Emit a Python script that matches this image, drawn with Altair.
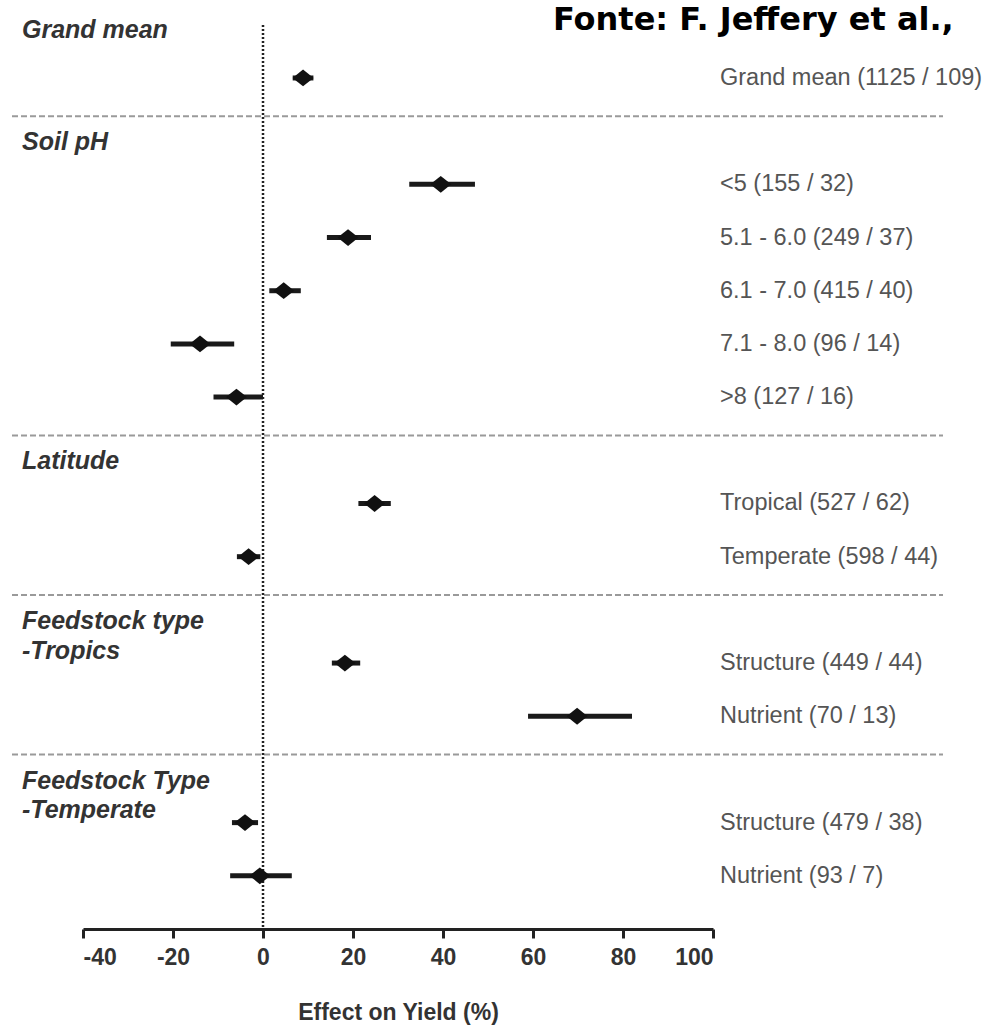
import altair as alt
import pandas as pd

# ---- data ----
heading_lines = [
    ["Grand mean"],
    ["Soil pH"],
    ["Latitude"],
    ["Feedstock type", "-Tropics"],
    ["Feedstock Type", "-Temperate"],
]
group_sizes = [1, 5, 2, 2, 2]
row_labels = [
    "Grand mean (1125 / 109)",
    "<5 (155 / 32)",
    "5.1 - 6.0 (249 / 37)",
    "6.1 - 7.0 (415 / 40)",
    "7.1 - 8.0 (96 / 14)",
    ">8 (127 / 16)",
    "Tropical (527 / 62)",
    "Temperate (598 / 44)",
    "Structure (449 / 44)",
    "Nutrient (70 / 13)",
    "Structure (479 / 38)",
    "Nutrient (93 / 7)",
]
effect = [8.9, 39.5, 18.9, 4.6, -14.0, -5.9, 24.8, -3.2, 18.2, 69.8, -4.0, -0.7]
ci_low = [6.6, 32.5, 14.2, 1.4, -20.5, -11.0, 21.2, -5.8, 15.3, 58.9, -6.9, -7.3]
ci_high = [11.2, 47.1, 24.0, 8.4, -6.4, 0.0, 28.4, -0.6, 21.6, 82.0, -1.1, 6.4]
x_ticks = [-40, -20, 0, 20, 40, 60, 80, 100]
x_title = "Effect on Yield (%)"
source_text = "Fonte: F. Jeffery et al.,"

# ---- build row layout (row index per item, group spacing) ----
rows_p, head_rows, sep_rows = [], [], []
p = 0
for gi, (lines, n) in enumerate(zip(heading_lines, group_sizes)):
    if gi > 0:
        p += 1
    first = p
    off = -0.9 if gi == 0 else -0.79
    for li, line in enumerate(lines):
        head_rows.append({"p": first + off + li * 0.56, "text": line})
    for _ in range(n):
        rows_p.append(p)
        p += 1
    if gi < len(group_sizes) - 1:
        sep_rows.append({"p": p - 1 + 0.72})

df = pd.DataFrame({"p": rows_p, "label": row_labels, "mean": effect,
                   "lo": ci_low, "hi": ci_high})
heads = pd.DataFrame(head_rows)
seps = pd.DataFrame(sep_rows)
zero_df = pd.DataFrame({"z": [0]})
src_df = pd.DataFrame({"t": [source_text]})

x_scale = alt.Scale(domain=[-40, 100], nice=False, zero=False)
y_scale = alt.Scale(domain=[-1.09, 16], reverse=True, nice=False, zero=False)
x_axis = alt.Axis(values=x_ticks, title=x_title, labelExpr="'' + datum.value")
Y = alt.Y("p:Q", scale=y_scale, axis=None)

bars = alt.Chart(df).mark_rule(strokeWidth=5, color="#1a1a1a").encode(
    x=alt.X("lo:Q", scale=x_scale, axis=x_axis),
    x2="hi:Q",
    y=Y,
)

diamond = "M-1,0L0,-0.8L1,0L0,0.8Z"
points = alt.Chart(df).mark_point(shape=diamond, size=440, filled=True,
                                  color="#111", opacity=1).encode(
    x=alt.X("mean:Q", scale=x_scale, axis=x_axis),
    y=Y,
)

labels = alt.Chart(df).mark_text(align="left", baseline="middle",
                                 font="Liberation Sans", fontSize=23.5,
                                 color="#555").encode(
    x=alt.value(637), y=Y, text="label:N")

headings = alt.Chart(heads).mark_text(align="left", baseline="middle",
                                      font="Liberation Sans", fontSize=25,
                                      fontWeight="bold", fontStyle="italic",
                                      color="#333").encode(
    x=alt.value(-61), y=Y, text="text:N")

separators = alt.Chart(seps).mark_rule(strokeDash=[6, 3], color="#9a9a9a",
                                       strokeWidth=2).encode(
    x=alt.value(-71), x2=alt.value(860), y=Y)

vline = alt.Chart(zero_df).mark_rule(strokeDash=[2, 2], strokeWidth=2.5,
                                     color="#222").encode(
    x=alt.X("z:Q", scale=x_scale, axis=x_axis),
    y=alt.value(5), y2=alt.value(909))

source = alt.Chart(src_df).mark_text(align="left", baseline="alphabetic",
                                     font="DejaVu Sans", fontSize=32,
                                     fontWeight="bold", color="#000").encode(
    x=alt.value(470), y=alt.value(10), text="t:N")

chart = alt.layer(separators, vline, bars, points, labels, headings, source).properties(
    width=630, height=909,
    autosize=alt.AutoSizeParams(type="none"),
    padding={"left": 83, "top": 20, "right": 277, "bottom": 104},
).configure_view(stroke=None).configure_axis(
    grid=False,
    domainColor="#222", domainWidth=3,
    tickColor="#222", tickWidth=3, tickSize=9,
    labelFont="Liberation Sans", labelFontSize=23, labelFontWeight="bold",
    labelColor="#333", labelPadding=8,
    titleFont="Liberation Sans", titleFontSize=23, titleFontWeight="bold",
    titleColor="#333", titlePadding=32,
)

chart.save("out.html", embed_options={"renderer": "svg", "actions": False})
